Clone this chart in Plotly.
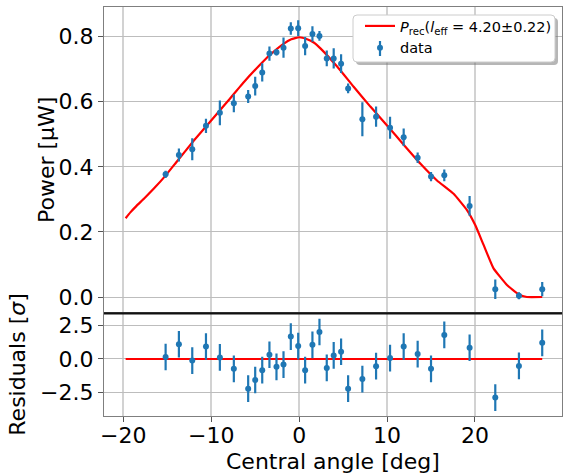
import plotly.graph_objects as go

# ---- data ----
angle = [-15.19, -13.68, -12.16, -10.6, -9.02, -7.43, -5.8, -5.0, -4.2, -3.38, -2.58, -1.78,
         -0.95, -0.11, 0.68, 1.51, 2.31, 3.14, 3.93, 4.77, 5.57, 7.19, 8.75, 10.34, 11.89,
         13.48, 15.0, 16.51, 19.39, 22.31, 25.0, 27.65]
power = [0.377, 0.436, 0.454, 0.526, 0.566, 0.595, 0.616, 0.648, 0.690, 0.748, 0.752, 0.766,
         0.825, 0.826, 0.771, 0.808, 0.802, 0.733, 0.733, 0.717, 0.641, 0.546, 0.554, 0.520,
         0.491, 0.428, 0.370, 0.374, 0.280, 0.024, 0.004, 0.024]
power_err = [0.011, 0.020, 0.034, 0.022, 0.038, 0.027, 0.020, 0.029, 0.028, 0.022, 0.010, 0.031,
             0.019, 0.024, 0.028, 0.024, 0.015, 0.024, 0.031, 0.029, 0.015, 0.052, 0.031, 0.034,
             0.027, 0.016, 0.014, 0.018, 0.030, 0.030, 0.011, 0.022]
residual = [0.15, 1.11, -0.12, 0.94, 0.12, -0.74, -2.23, -1.58, -0.84, 0.32, -0.59, -0.42,
            1.68, 0.97, -0.84, 1.06, 2.03, -0.67, 0.27, 0.54, -2.23, -1.51, -0.54, 0.07,
            0.94, 0.37, -0.74, 1.81, 0.84, -2.90, -0.52, 1.21]
residual_err = [1.0] * len(angle)

model_angle = [-19.74, -19.2, -18.5, -17.66, -16.5, -15.2, -13.86, -12.0, -10.08, -8.18, -6.3,
               -4.4, -3.4, -1.78, -0.9, 0.0, 0.9, 1.66, 2.42, 4.32, 6.2, 8.1, 10.0, 11.89,
               13.78, 15.68, 17.57, 19.09, 20.03, 20.98, 22.11, 23.64, 24.95, 25.9, 27.65]
model_power = [0.242, 0.260, 0.280, 0.302, 0.334, 0.373, 0.418, 0.480, 0.540, 0.600, 0.660,
               0.715, 0.742, 0.778, 0.792, 0.798, 0.792, 0.782, 0.764, 0.708, 0.646, 0.585,
               0.527, 0.468, 0.410, 0.358, 0.317, 0.267, 0.221, 0.160, 0.088, 0.037, 0.009,
               0.0, 0.0]
model_resid_angle = [-19.74, 27.65]
model_resid = [0.0, 0.0]

x_ticks = [-20, -10, 0, 10, 20]
x_ticktext = ["\u221220", "\u221210", "0", "10", "20"]
y_ticks = [0.0, 0.2, 0.4, 0.6, 0.8]
y_ticktext = ["0.0", "0.2", "0.4", "0.6", "0.8"]
r_ticks = [-2.5, 0.0, 2.5]
r_ticktext = ["\u22122.5", "0.0", "2.5"]

BLUE = "#1f77b4"
RED = "#ff0000"
FONT = "DejaVu Sans"

# pixel geometry helpers (plot area 104..562 x 7..416)
L, R, T, B = 104, 562, 7, 416
W, H = R - L, B - T
def px(xp):
    return (xp - L) / W
def py(yp):
    return (B - yp) / H

fig = go.Figure()
fig.add_trace(go.Scatter(x=model_angle, y=model_power, mode="lines",
                         line=dict(color=RED, width=2.2, shape="spline", smoothing=0.35),
                         name="<i>P</i><sub>rec</sub>(<i>l</i><sub>eff</sub> = 4.20\u00b10.22)",
                         xaxis="x", yaxis="y"))
fig.add_trace(go.Scatter(x=angle, y=power, mode="markers", name="data",
                         marker=dict(color=BLUE, size=6),
                         error_y=dict(type="data", array=power_err, color=BLUE, thickness=2.2, width=0),
                         xaxis="x", yaxis="y"))
fig.add_trace(go.Scatter(x=model_resid_angle, y=model_resid, mode="lines",
                         line=dict(color=RED, width=2.2), showlegend=False,
                         xaxis="x2", yaxis="y2"))
fig.add_trace(go.Scatter(x=angle, y=residual, mode="markers", showlegend=False,
                         marker=dict(color=BLUE, size=6),
                         error_y=dict(type="data", array=residual_err, color=BLUE, thickness=2.2, width=0),
                         xaxis="x2", yaxis="y2"))

split = py(313.3)
axis_common = dict(showline=True, linecolor="#7f7f7f", linewidth=1.2, mirror=True,
                   ticklen=5, tickcolor="#555555", tickwidth=1, automargin=False,
                   tickfont=dict(family=FONT, size=22, color="#000000"),
                   zeroline=False)
xr = [-22.2, 29.9]
fig.update_layout(
    width=567, height=473,
    margin=dict(l=L, r=567 - R, t=T, b=473 - B),
    paper_bgcolor="white", plot_bgcolor="white",
    font=dict(family=FONT, size=22, color="#000000"),
    xaxis=dict(domain=[0, 1], anchor="y", range=xr, tickvals=x_ticks, showticklabels=False,
               ticks="", showgrid=True, gridcolor="#d2d2d2", gridwidth=1.6, **axis_common),
    yaxis=dict(domain=[split, 1], anchor="x", range=[-0.050, 0.891], tickvals=y_ticks,
               ticktext=y_ticktext, ticks="outside", showgrid=True, gridcolor="#bdbdbd",
               gridwidth=1, **axis_common),
    xaxis2=dict(domain=[0, 1], anchor="y2", range=xr, matches="x", tickvals=x_ticks,
                ticktext=x_ticktext, ticks="outside", showgrid=True, gridcolor="#d2d2d2",
                gridwidth=1.6, ticklabelstandoff=-6, **axis_common),
    yaxis2=dict(domain=[0, split], anchor="x2", range=[-4.28, 3.43], tickvals=r_ticks,
                ticktext=r_ticktext, ticks="outside", showgrid=True, gridcolor="#bdbdbd",
                gridwidth=1, **axis_common),
    legend=dict(x=px(360), y=py(10), xanchor="left", yanchor="top",
                bgcolor="rgba(0,0,0,0)", borderwidth=0,
                font=dict(family=FONT, size=14.5, color="#000000"),
                tracegroupgap=0, itemwidth=30),
    showlegend=True,
)

# axis titles
fig.add_annotation(text="Central angle [deg]", xref="paper", yref="paper",
                   x=0.5, y=py(461.5), xanchor="center", yanchor="middle", showarrow=False,
                   font=dict(family=FONT, size=22, color="#000000"))
fig.add_annotation(text="Power [\u03bcW]", xref="paper", yref="paper", textangle=-90,
                   x=px(46), y=py(160), xanchor="center", yanchor="middle", showarrow=False,
                   font=dict(family=FONT, size=22, color="#000000"))
fig.add_annotation(text="Residuals [<i>\u03c3</i>]", xref="paper", yref="paper", textangle=-90,
                   x=px(18), y=py(364.7), xanchor="center", yanchor="middle", showarrow=False,
                   font=dict(family=FONT, size=22, color="#000000"))

# legend frame with rounded corners and shadow
def rounded(x0, y0, x1, y1, r=4):
    X0, X1 = px(x0), px(x1)
    Y0, Y1 = py(y0), py(y1)
    rx, ry = r / W, r / H
    return (f"M {X0+rx},{Y0} L {X1-rx},{Y0} Q {X1},{Y0} {X1},{Y0-ry} "
            f"L {X1},{Y1+ry} Q {X1},{Y1} {X1-rx},{Y1} L {X0+rx},{Y1} "
            f"Q {X0},{Y1} {X0},{Y1+ry} L {X0},{Y0-ry} Q {X0},{Y0} {X0+rx},{Y0} Z")

fig.add_shape(type="path", xref="paper", yref="paper", path=rounded(356, 18, 558, 65),
              fillcolor="rgba(110,110,110,0.5)", line=dict(width=0), layer="above")
fig.add_shape(type="path", xref="paper", yref="paper", path=rounded(353, 15, 555, 62),
              fillcolor="white", line=dict(color="#cccccc", width=1), layer="above")
# error-bar stroke for the legend's data symbol
fig.add_shape(type="line", xref="paper", yref="paper", x0=px(380), x1=px(380),
              y0=py(41), y1=py(56), line=dict(color=BLUE, width=2.2), layer="above")
# black separator line between panels
fig.add_shape(type="line", xref="paper", yref="paper", x0=0, x1=1, y0=split, y1=split,
              line=dict(color="#111111", width=2.2), layer="above")

fig.write_html("out.html", post_script="document.body.style.margin='0';",
               config={"displayModeBar": False})
